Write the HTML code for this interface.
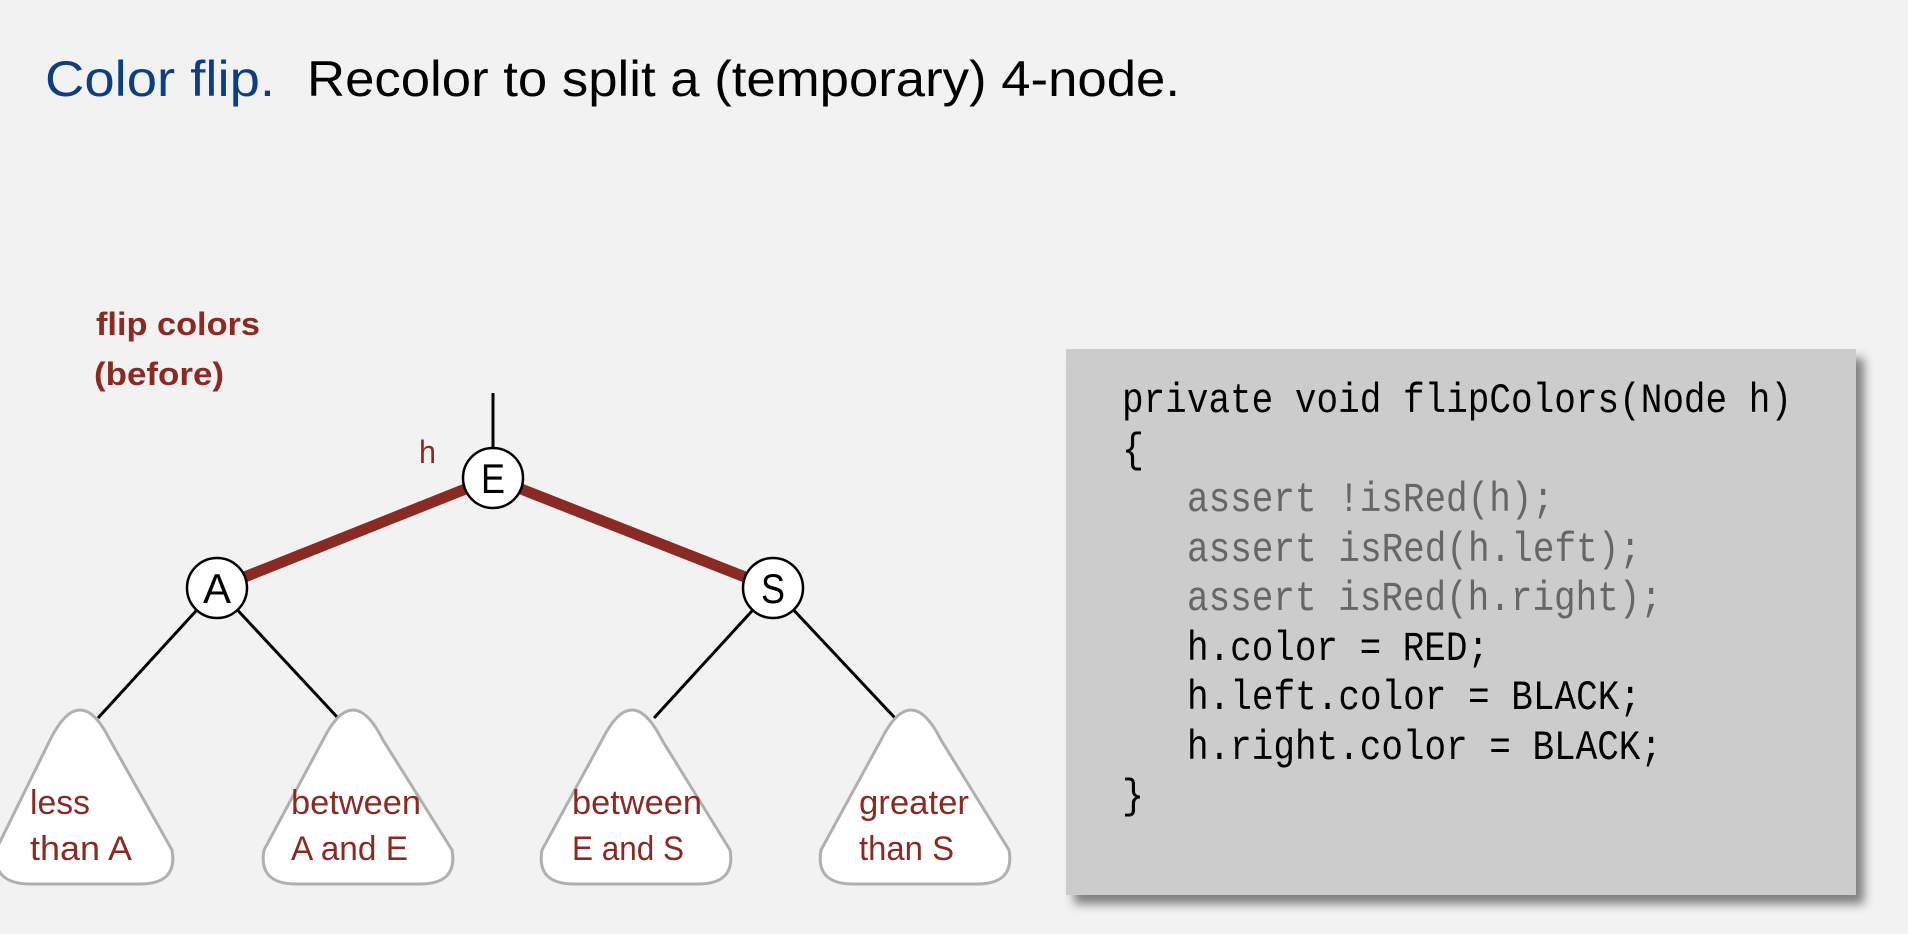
<!DOCTYPE html>
<html><head><meta charset="utf-8"><style>
html,body{margin:0;padding:0;background:#f2f2f2;}
svg{display:block}
</style></head><body>
<svg width="1908" height="934" viewBox="0 0 1908 934" xmlns="http://www.w3.org/2000/svg">
<defs><filter id="sh" x="-5%" y="-5%" width="115%" height="115%"><feGaussianBlur stdDeviation="5"/></filter></defs>
<rect width="1908" height="934" fill="#f2f2f2"/>
<g font-family="Liberation Sans, sans-serif" font-size="50">
<text x="45" y="96" fill="#0e3e82" textLength="230" lengthAdjust="spacingAndGlyphs">Color flip.</text>
<text x="307" y="96" fill="#000" textLength="873" lengthAdjust="spacingAndGlyphs">Recolor to split a (temporary) 4-node.</text>
</g>
<g font-family="Liberation Sans, sans-serif" font-weight="bold" font-size="32" fill="#8b2a22">
<text x="96" y="335" textLength="164" lengthAdjust="spacingAndGlyphs">flip colors</text>
<text x="94" y="385" textLength="130" lengthAdjust="spacingAndGlyphs">(before)</text>
</g>
<text x="419" y="463" font-family="Liberation Sans, sans-serif" font-size="32" fill="#8b2a22" textLength="17" lengthAdjust="spacingAndGlyphs">h</text>
<!-- edges -->
<line x1="493" y1="393" x2="493" y2="450" stroke="#000" stroke-width="3"/>
<line x1="217" y1="588" x2="493" y2="478" stroke="#8b2a22" stroke-width="11"/>
<line x1="773" y1="588" x2="493" y2="478" stroke="#8b2a22" stroke-width="11"/>
<g stroke="#000" stroke-width="3">
<line x1="217" y1="588" x2="98" y2="718"/>
<line x1="217" y1="588" x2="338" y2="718"/>
<line x1="773" y1="588" x2="654" y2="718"/>
<line x1="773" y1="588" x2="895" y2="718"/>
</g>
<!-- triangles -->
<g fill="#fff" stroke="#b0b0b0" stroke-width="3">
<path d="M50,740 Q80,680 110,740 L172,850 Q178,884 140,884 L30,884 Q-8,884 -4,850 Z"/>
<path d="M323,740 Q353,680 383,740 L452,850 Q458,884 420,884 L296,884 Q258,884 264,850 Z"/>
<path d="M602,740 Q632,680 662,740 L730,850 Q736,884 698,884 L574,884 Q536,884 542,850 Z"/>
<path d="M881,740 Q911,680 941,740 L1009,850 Q1015,884 977,884 L853,884 Q815,884 821,850 Z"/>
</g>
<g font-family="Liberation Sans, sans-serif" font-size="34" fill="#8b2a22" lengthAdjust="spacingAndGlyphs">
<text x="30" y="814" textLength="60" lengthAdjust="spacingAndGlyphs">less</text>
<text x="30" y="860" textLength="102" lengthAdjust="spacingAndGlyphs">than A</text>
<text x="291" y="814" textLength="130" lengthAdjust="spacingAndGlyphs">between</text>
<text x="291" y="860" textLength="117" lengthAdjust="spacingAndGlyphs">A and E</text>
<text x="572" y="814" textLength="130" lengthAdjust="spacingAndGlyphs">between</text>
<text x="572" y="860" textLength="112" lengthAdjust="spacingAndGlyphs">E and S</text>
<text x="859" y="814" textLength="110" lengthAdjust="spacingAndGlyphs">greater</text>
<text x="859" y="860" textLength="95" lengthAdjust="spacingAndGlyphs">than S</text>
</g>
<!-- nodes -->
<g fill="#fff" stroke="#000" stroke-width="2.5">
<circle cx="493" cy="478" r="30"/>
<circle cx="217" cy="588" r="30"/>
<circle cx="773" cy="588" r="30"/>
</g>
<g font-family="Liberation Sans, sans-serif" font-size="42" text-anchor="middle" fill="#000">
<text x="493" y="493" textLength="24" lengthAdjust="spacingAndGlyphs">E</text>
<text x="217" y="603" textLength="28" lengthAdjust="spacingAndGlyphs">A</text>
<text x="773" y="603" textLength="24" lengthAdjust="spacingAndGlyphs">S</text>
</g>
<!-- code box -->
<rect x="1074" y="358" width="790" height="546" fill="#333" opacity="0.6" filter="url(#sh)"/>
<rect x="1066" y="349" width="790" height="546" fill="#cccccc"/>
<g font-family="Liberation Mono, monospace" font-size="42" fill="#000">
<text x="1122" y="412" textLength="670" lengthAdjust="spacingAndGlyphs">private void flipColors(Node h)</text>
<text x="1122" y="462" textLength="22" lengthAdjust="spacingAndGlyphs">{</text>
<text x="1187" y="511" fill="#666" textLength="367" lengthAdjust="spacingAndGlyphs">assert !isRed(h);</text>
<text x="1187" y="561" fill="#666" textLength="454" lengthAdjust="spacingAndGlyphs">assert isRed(h.left);</text>
<text x="1187" y="610" fill="#666" textLength="475" lengthAdjust="spacingAndGlyphs">assert isRed(h.right);</text>
<text x="1187" y="660" textLength="302" lengthAdjust="spacingAndGlyphs">h.color = RED;</text>
<text x="1187" y="709" textLength="454" lengthAdjust="spacingAndGlyphs">h.left.color = BLACK;</text>
<text x="1187" y="759" textLength="475" lengthAdjust="spacingAndGlyphs">h.right.color = BLACK;</text>
<text x="1122" y="808" textLength="22" lengthAdjust="spacingAndGlyphs">}</text>
</g>
</svg>
</body></html>
